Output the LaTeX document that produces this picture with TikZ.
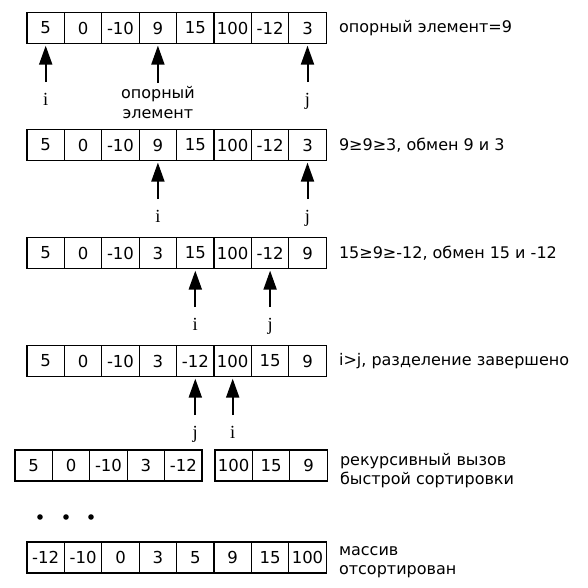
\documentclass[tikz,border=0pt]{standalone}
\usepackage{fontspec}
\setmainfont{DejaVu Sans}
\newfontfamily\ijfont{Liberation Serif}
\usetikzlibrary{arrows.meta,positioning}
\tikzset{
  cell/.style={draw,line width=1.3pt,minimum width=37.4pt,minimum height=31pt,inner sep=0pt},
  note/.style={inner sep=0pt,align=left,font=\fontsize{16}{19}\selectfont},
  ptrlab/.style={inner sep=0pt,text height=12pt,text depth=4pt,font=\ijfont\fontsize{18.5}{20}\selectfont},
  ptr/.style={line width=2pt,-{Triangle[length=19pt,width=13pt]},shorten <=11pt,shorten >=1.5pt}
}
\begin{document}
\begin{tikzpicture}[x=1pt,y=-1pt,font=\fontsize{16.5}{19}\selectfont]
\useasboundingbox (0,0) rectangle (587,588);
\foreach \v [count=\k] in {5,0,-10,9,15,100,-12,3}
  \node[cell] (a\k) at (8.3+37.4*\k,28) {\v};
\node[note,right=12pt of a8] (n1) {опорный элемент=9};
\node[ptrlab,below=49pt of a1] (i1) {i};
\node[below=42pt of a4,inner sep=0pt,align=center,font=\fontsize{16}{20}\selectfont] (piv) {опорный\\элемент};
\node[ptrlab,below=49pt of a8] (j1) {j};
\draw[ptr] (i1) -- (a1);
\draw[ptr,shorten <=3pt] (piv) -- (a4);
\draw[ptr] (j1) -- (a8);

\foreach \v [count=\k] in {5,0,-10,9,15,100,-12,3}
  \node[cell] (b\k) at (8.3+37.4*\k,145) {\v};
\node[note,right=12pt of b8] (n2) {9≥9≥3, обмен 9 и 3};
\node[ptrlab,below=49pt of b4] (i2) {i};
\node[ptrlab,below=49pt of b8] (j2) {j};
\draw[ptr] (i2) -- (b4);
\draw[ptr] (j2) -- (b8);

\foreach \v [count=\k] in {5,0,-10,3,15,100,-12,9}
  \node[cell] (c\k) at (8.3+37.4*\k,253) {\v};
\node[note,right=12pt of c8] (n3) {15≥9≥-12, обмен 15 и -12};
\node[ptrlab,below=49pt of c5] (i3) {i};
\node[ptrlab,below=49pt of c7] (j3) {j};
\draw[ptr] (i3) -- (c5);
\draw[ptr] (j3) -- (c7);

\foreach \v [count=\k] in {5,0,-10,3,-12,100,15,9}
  \node[cell] (d\k) at (8.3+37.4*\k,361) {\v};
\node[note,right=12pt of d8] (n4) {i>j, разделение завершено};
\node[ptrlab,below=49pt of d5] (j4) {j};
\node[ptrlab,below=49pt of d6] (i4) {i};
\draw[ptr] (j4) -- (d5);
\draw[ptr] (i4) -- (d6);

\foreach \v [count=\k] in {5,0,-10,3,-12}
  \node[cell] (e\k) at (-3.7+37.4*\k,465.5) {\v};
\foreach \v [count=\k from 6] in {100,15,9}
  \node[cell] (e\k) at (9.3+37.4*\k,465.5) {\v};
\node[note,right=12pt of e8,yshift=-5pt] (n5) {рекурсивный вызов\\быстрой сортировки};

\foreach \x in {40,66,91}
  \fill (\x,517) circle (2.8pt);

\foreach \v [count=\k] in {-12,-10,0,3,5,9,15,100}
  \node[cell] (f\k) at (8.3+37.4*\k,557.5) {\v};
\node[note,right=12pt of f8,yshift=-5pt] (n6) {массив\\отсортирован};
\end{tikzpicture}
\end{document}
